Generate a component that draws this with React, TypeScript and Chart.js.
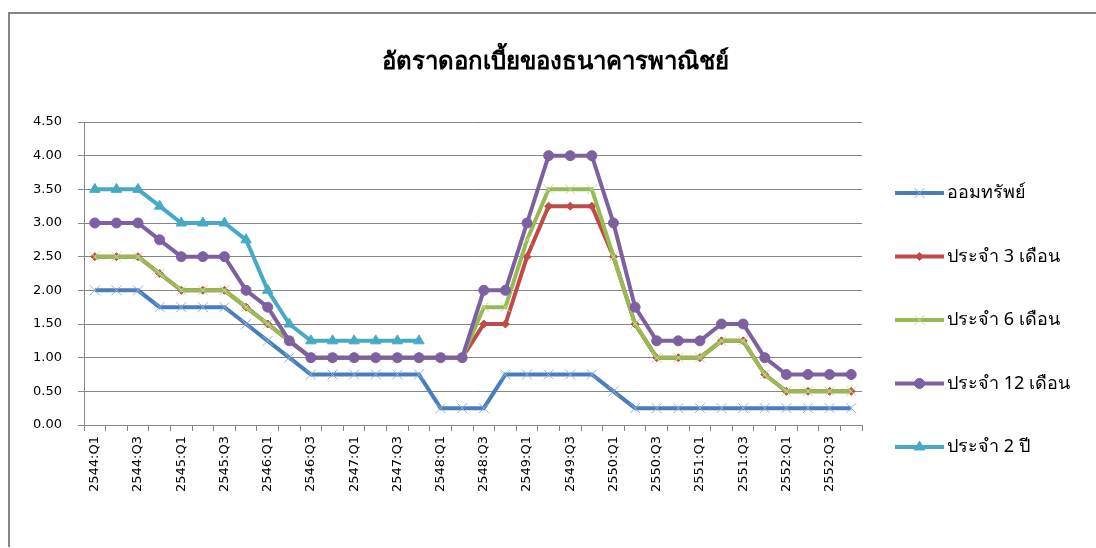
import React, { useEffect, useRef } from "react";
import { Chart, registerables } from "chart.js";
import { drawPoint } from "chart.js/helpers";

Chart.register(...registerables);

const years = ["2544", "2545", "2546", "2547", "2548", "2549", "2550", "2551", "2552"];
const quarters = ["Q1", "Q2", "Q3", "Q4"];
const categories: string[] = years.flatMap((y) => quarters.map((q) => `${y}:${q}`));

const titleText = "อัตราดอกเบี้ยของธนาคารพาณิชย์";
const seriesNames = ["ออมทรัพย์", "ประจำ 3 เดือน", "ประจำ 6 เดือน", "ประจำ 12 เดือน", "ประจำ 2 ปี"];

const savings = [2, 2, 2, 1.75, 1.75, 1.75, 1.75, 1.5, 1.25, 1.0, 0.75, 0.75, 0.75, 0.75, 0.75, 0.75, 0.25, 0.25, 0.25, 0.75, 0.75, 0.75, 0.75, 0.75, 0.5, 0.25, 0.25, 0.25, 0.25, 0.25, 0.25, 0.25, 0.25, 0.25, 0.25, 0.25];
const fixed3m = [2.5, 2.5, 2.5, 2.25, 2, 2, 2, 1.75, 1.5, 1.25, 1, 1, 1, 1, 1, 1, 1, 1, 1.5, 1.5, 2.5, 3.25, 3.25, 3.25, 2.5, 1.5, 1, 1, 1, 1.25, 1.25, 0.75, 0.5, 0.5, 0.5, 0.5];
const fixed6m = [2.5, 2.5, 2.5, 2.25, 2, 2, 2, 1.75, 1.5, 1.25, 1, 1, 1, 1, 1, 1, 1, 1, 1.75, 1.75, 2.75, 3.5, 3.5, 3.5, 2.5, 1.5, 1, 1, 1, 1.25, 1.25, 0.75, 0.5, 0.5, 0.5, 0.5];
const fixed12m = [3, 3, 3, 2.75, 2.5, 2.5, 2.5, 2, 1.75, 1.25, 1, 1, 1, 1, 1, 1, 1, 1, 2, 2, 3, 4, 4, 4, 3, 1.75, 1.25, 1.25, 1.25, 1.5, 1.5, 1, 0.75, 0.75, 0.75, 0.75];
const fixed2y: (number | null)[] = [3.5, 3.5, 3.5, 3.25, 3, 3, 3, 2.75, 2, 1.5, 1.25, 1.25, 1.25, 1.25, 1.25, 1.25, null, null, null, null, null, null, null, null, null, null, null, null, null, null, null, null, null, null, null, null];

const lineColors = ["#4A7EBB", "#BE4B48", "#98B954", "#7D60A0", "#46AAC5"];
const markerBorder = ["#8AB0DE", "#BE4B48", "#C2DA96", "#7D60A0", "#46AAC5"];
const markerStyles = ["crossRot", "rectRot", "crossRot", "circle", "triangle"];
const markerRadius = [7, 4, 7, 5, 6];
const markerBorderWidth = [1, 1, 1, 1, 1];

const W = 1086;
const H = 533;
const AREA_LEFT = 74;
const AREA_RIGHT = 852;
const AREA_TOP = 108;
const AREA_BOTTOM = 411;

const thaiFont = '"Noto Sans", "DejaVu Serif", serif';

const customPlugin = {
  id: "customDecor",
  afterDraw(chart: any) {
    const ctx = chart.ctx as CanvasRenderingContext2D;
    ctx.save();
    // title
    ctx.fillStyle = "#000";
    ctx.font = `bold 24px ${thaiFont}`;
    ctx.textAlign = "center";
    ctx.textBaseline = "middle";
    ctx.fillText(titleText, 545, 48);
    // legend
    chart.data.datasets.forEach((ds: any, i: number) => {
      const y = 179 + i * 63.5;
      const x1 = 885;
      const x2 = 934;
      ctx.strokeStyle = ds.borderColor;
      ctx.lineWidth = 4;
      ctx.beginPath();
      ctx.moveTo(x1, y);
      ctx.lineTo(x2, y);
      ctx.stroke();
      ctx.fillStyle = ds.pointBackgroundColor;
      ctx.strokeStyle = ds.pointBorderColor;
      ctx.lineWidth = ds.pointBorderWidth;
      drawPoint(ctx, { pointStyle: ds.pointStyle, radius: ds.pointRadius, borderWidth: ds.pointBorderWidth, rotation: 0 } as any, (x1 + x2) / 2, y);
      ctx.fillStyle = "#000";
      ctx.font = `18px ${thaiFont}`;
      ctx.textAlign = "left";
      ctx.textBaseline = "middle";
      ctx.fillText(ds.label, 937, y);
    });
    ctx.restore();
  },
};

export default function App() {
  const canvasRef = useRef<HTMLCanvasElement | null>(null);

  useEffect(() => {
    if (!canvasRef.current) return;
    const seriesData = [savings, fixed3m, fixed6m, fixed12m, fixed2y];
    const chart = new Chart(canvasRef.current, {
      type: "line",
      data: {
        labels: categories,
        datasets: seriesData.map((d, i) => ({
          label: seriesNames[i],
          data: d,
          borderColor: lineColors[i],
          backgroundColor: lineColors[i],
          borderWidth: 4,
          pointStyle: markerStyles[i] as any,
          pointRadius: markerRadius[i],
          pointBorderWidth: markerBorderWidth[i],
          pointBackgroundColor: lineColors[i],
          pointBorderColor: markerBorder[i],
          tension: 0,
          spanGaps: false,
          order: 5 - i,
        })),
      },
      options: {
        animation: false,
        responsive: false,
        devicePixelRatio: 1,
        layout: {
          padding: { left: 0, right: W - AREA_RIGHT, top: AREA_TOP, bottom: 0 },
        },
        plugins: {
          legend: { display: false },
          title: { display: false },
          tooltip: { enabled: false },
        },
        scales: {
          x: {
            type: "category",
            offset: true,
            grid: {
              offset: true,
              drawOnChartArea: false,
              drawTicks: true,
              tickLength: 6,
              color: "#868686",
            },
            border: { color: "#868686", width: 1 },
            ticks: {
              autoSkip: false,
              minRotation: 90,
              maxRotation: 90,
              padding: 5,
              color: "#000",
              font: { family: "DejaVu Sans", size: 13 },
              callback: (_v: any, idx: number) => (idx % 2 === 0 ? categories[idx] : ""),
            },
            afterFit: (scale: any) => {
              scale.height = H - AREA_BOTTOM;
            },
          },
          y: {
            min: 0,
            max: 4.5,
            grid: {
              color: "#868686",
              lineWidth: 1,
              tickLength: 6,
            },
            border: { color: "#868686", width: 1 },
            ticks: {
              stepSize: 0.5,
              padding: 16,
              color: "#000",
              font: { family: "DejaVu Sans", size: 13 },
              callback: (v: any) => Number(v).toFixed(2),
            },
            afterFit: (scale: any) => {
              scale.width = AREA_LEFT;
            },
          },
        },
      },
      plugins: [customPlugin],
    });
    return () => chart.destroy();
  }, []);

  return (
    <div
      style={{
        position: "absolute",
        left: 8,
        top: 12,
        width: W + 2,
        height: H + 2,
        borderTop: "2px solid #868686",
        borderLeft: "2px solid #868686",
        boxSizing: "border-box",
        background: "#fff",
      }}
    >
      <canvas ref={canvasRef} width={W} height={H} style={{ display: "block", width: W, height: H }} />
    </div>
  );
}
